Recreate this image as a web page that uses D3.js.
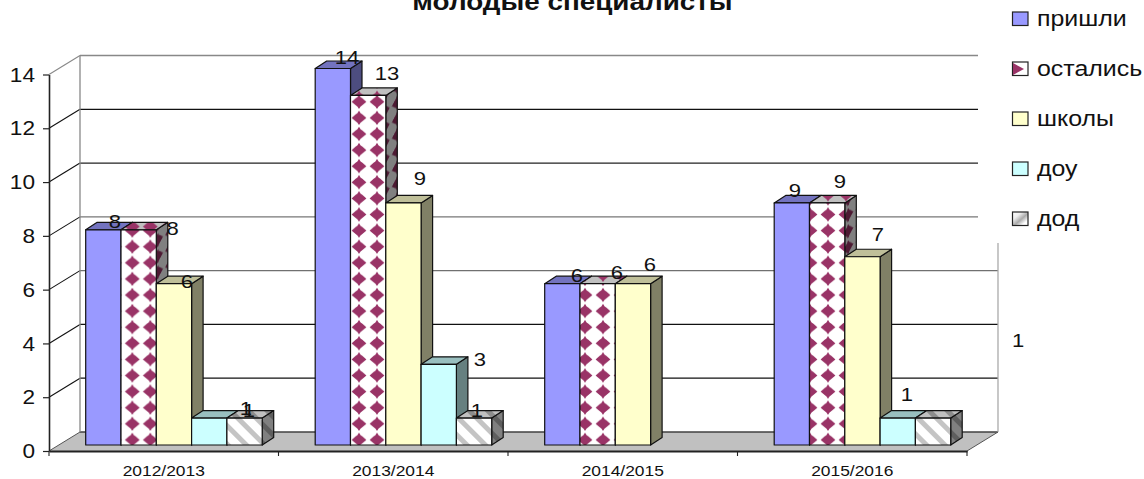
<!DOCTYPE html>
<html><head><meta charset="utf-8">
<script src="https://cdn.jsdelivr.net/npm/d3@7"></script>
<style>html,body{margin:0;padding:0;background:#fff;overflow:hidden}svg{display:block}text{font-family:"Liberation Sans",Arial,sans-serif;fill:#111}</style>
</head><body><svg id="c" width="1144" height="479"></svg>
<script>
const titleText = "молодые специалисты";
const categories = ["2012/2013","2013/2014","2014/2015","2015/2016"];
const seriesNames = ["пришли","остались","школы","доу","дод"];
const prishli  = [8,14,6,9];
const ostalis  = [8,13,6,9];
const shkoly   = [6,9,6,7];
const dou      = [1,3,null,1];
const dod      = [1,1,null,1];
const seriesValues = [prishli,ostalis,shkoly,dou,dod];
const yTicks = [0,2,4,6,8,10,12,14];

// hand-placed data label nudges (reference labels are scattered), [dx,dy] per series per category
const labelNudges = [
  [[11.6,-1.6],[14.1,-5],[14.6,-1.4],[3.1,-5.6]],
  [[34,5.4],[18.8,-15],[19.3,-4.4],[12.8,-14.6]],
  [[13,4.6],[16.5,-17.6],[17,-12.4],[15.5,-15.5]],
  [[36.7,-3],[41.2,1.8],null,[9.2,-17]],
  [[4.4,-1],[2.9,-1],null,[85,-71]]
];
const diamondPhase = [132.3,359,585,810];

const svg = d3.select("#c");
const sx = 1.16; // the reference is stretched horizontally
const X0=49, X1=967, Y0=451, Y14=74.5, WX=31, WY=-19, BX=11.5, BY=-7.5, FX=10, FY=-6;
const y = d3.scaleLinear().domain([0,14]).range([Y0,Y14]);
const xCat = d3.scaleBand().domain(categories).range([X0,X1]);
const xSer = d3.scaleBand().domain(seriesNames).range([26.7,203.2]);

const defs = svg.append("defs");
const diamondPath = "M9,0.8 L10.6,3.2 L12.4,4.6 L16.4,8 L12.4,11.4 L10.6,12.9 L9,15.2 L7.4,12.9 L5.6,11.4 L1.6,8 L5.6,4.6 L7.4,3.2Z";
function diamonds(id,bg,fg,px,ky,matrix){
  const p = defs.append("pattern").attr("id",id).attr("patternUnits","userSpaceOnUse")
    .attr("width",18).attr("height",16.1)
    .attr("patternTransform",matrix||`translate(${px},${ky})`);
  p.append("rect").attr("width",18).attr("height",16.1).attr("fill",bg);
  p.append("path").attr("d",diamondPath).attr("fill",fg);
}
categories.forEach((c,i)=>{
  const px=diamondPhase[i]-9, ky=246.7-8;
  diamonds("dm"+i,"#fff","#993366",px,ky);
  diamonds("dmT"+i,"#c0c0c0","#993366",px,ky-4);
  diamonds("dmS"+i,"#808080","#4d1a33",0,0,`matrix(0.7,-0.5,0,1,${px+3},${ky})`);
});
function stripes(id,bg,fg){
  const p = defs.append("pattern").attr("id",id).attr("patternUnits","userSpaceOnUse")
    .attr("width",13).attr("height",13).attr("patternTransform","rotate(-45)");
  p.append("rect").attr("width",13).attr("height",13).attr("fill",bg);
  p.append("rect").attr("width",5).attr("height",13).attr("fill",fg);
}
stripes("hF","#fff","#c4c4c4"); stripes("hT","#c0c0c0","#8c8c8c"); stripes("hS","#808080","#5e5e5e");

const faces = [
  {f:()=>"#9999ff",t:()=>"#7373bf",s:()=>"#4d4d80"},
  {f:i=>`url(#dm${i})`,t:i=>`url(#dmT${i})`,s:i=>`url(#dmS${i})`},
  {f:()=>"#ffffcc",t:()=>"#bfbf99",s:()=>"#808066"},
  {f:()=>"#ccffff",t:()=>"#99bfbf",s:()=>"#668080"},
  {f:()=>"url(#hF)",t:()=>"url(#hT)",s:()=>"url(#hS)"}
];

// floor
const poly=(pts)=>pts.map(p=>p.join(",")).join(" ");
svg.append("polygon").attr("points",poly([[X0,Y0],[X0+WX,Y0+WY],[X1+WX,Y0+WY],[X1,Y0]])).attr("fill","#c0c0c0");

// wall
const gridColor = {0:"#404040",2:"#111",4:"#111",6:"#707070",8:"#777",10:"#222",12:"#111",14:"#888"};
yTicks.forEach(t=>{
  const yy=y(t)+WY, right = t>=8 ? 978 : X1+WX;
  svg.append("line").attr("x1",X0+WX).attr("x2",right).attr("y1",yy).attr("y2",yy)
    .attr("stroke",gridColor[t]).attr("stroke-width",t===0?1.6:1.3);
  if(t>0) svg.append("line").attr("x1",X0).attr("x2",X0+WX).attr("y1",y(t)).attr("y2",yy)
    .attr("stroke",t===14?"#888":"#111").attr("stroke-width",1.1);
});
svg.append("line").attr("x1",X0+WX).attr("x2",X0+WX).attr("y1",y(14)+WY).attr("y2",Y0+WY).attr("stroke","#888").attr("stroke-width",1.3);
svg.append("line").attr("x1",X1+WX).attr("x2",X1+WX).attr("y1",243).attr("y2",Y0+WY).attr("stroke","#aaa").attr("stroke-width",1.3);
svg.append("line").attr("x1",X0).attr("x2",X0+WX).attr("y1",Y0).attr("y2",Y0+WY).attr("stroke","#555").attr("stroke-width",1);
svg.append("line").attr("x1",X1).attr("x2",X1+WX).attr("y1",Y0).attr("y2",Y0+WY).attr("stroke","#555").attr("stroke-width",1);

// bars
const barG = svg.append("g").attr("stroke","#111").attr("stroke-width",1.2).attr("stroke-linejoin","round");
categories.forEach((c,ci)=>{
  seriesNames.forEach((s,si)=>{
    const v = seriesValues[si][ci];
    if(v==null) return;
    const x0 = xCat(c)+FX+xSer(s), x1 = x0+xSer.bandwidth();
    const top = y(v)+FY, bot = Y0+FY;
    barG.append("polygon").attr("points",poly([[x1,top],[x1+BX,top+BY],[x1+BX,bot+BY],[x1,bot]])).attr("fill",faces[si].s(ci));
    barG.append("polygon").attr("points",poly([[x0,top],[x0+BX,top+BY],[x1+BX,top+BY],[x1,top]])).attr("fill",faces[si].t(ci));
    barG.append("rect").attr("x",x0).attr("y",top).attr("width",x1-x0).attr("height",bot-top).attr("fill",faces[si].f(ci));
  });
});

// axes
const axL = svg.append("g").attr("transform",`translate(${X0},0)`)
  .call(d3.axisLeft(y).tickValues(yTicks).tickSize(6).tickSizeOuter(0));
axL.select(".domain").attr("stroke","#222").attr("stroke-width",1.6);
axL.selectAll("line").attr("stroke","#222").attr("stroke-width",1.2);
axL.selectAll("text").attr("x",0).attr("dy","0.34em").style("font-size","19.5px").style("font-family",'"Liberation Sans"')
  .attr("transform",`translate(-14,0) scale(${sx},1)`).style("fill","#111");

const axB = svg.append("g").attr("transform",`translate(0,${Y0})`)
  .call(d3.axisBottom(xCat).tickSize(0).tickSizeOuter(0));
axB.select(".domain").attr("stroke","#222").attr("stroke-width",2);
axB.selectAll("text").attr("y",0).attr("dy",0).style("font-size","15px").style("font-family",'"Liberation Sans"').style("fill","#111")
  .attr("transform",`translate(0,25) scale(${sx},1)`);
categories.concat([null]).forEach((c)=>{
  const xx = c?xCat(c):X1;
  svg.append("line").attr("x1",xx).attr("x2",xx).attr("y1",Y0).attr("y2",Y0+5).attr("stroke","#222").attr("stroke-width",1.1);
});

// data labels
const txt=(x,yy,s,size,anchor,weight)=>svg.append("text").attr("transform",`translate(${x},${yy}) scale(${sx},1)`)
  .attr("text-anchor",anchor||"middle").style("font-size",size+"px").style("font-weight",weight||"normal").text(s);
categories.forEach((c,ci)=>{
  seriesNames.forEach((s,si)=>{
    const v = seriesValues[si][ci];
    if(v==null) return;
    const n = labelNudges[si][ci];
    const cx = xCat(c)+FX+xSer(s)+xSer.bandwidth()/2;
    txt(cx+n[0],y(v)+FY+n[1],v,19);
  });
});

// title
txt(572.5,10,titleText,24,"middle","bold");

// legend
const legY = d3.scalePoint().domain(seriesNames).range([19,219]);
const legFill = ["#9999ff","#fff","#ffffcc","#ccffff","url(#lgH)"];
const lgH = defs.append("linearGradient").attr("id","lgH").attr("x1","0").attr("y1","0").attr("x2","1").attr("y2","1");
lgH.append("stop").attr("offset","0").attr("stop-color","#fff");
lgH.append("stop").attr("offset","0.3").attr("stop-color","#eee");
lgH.append("stop").attr("offset","0.55").attr("stop-color","#aaa");
lgH.append("stop").attr("offset","0.8").attr("stop-color","#fff");
seriesNames.forEach((s,i)=>{
  const yy=legY(s);
  svg.append("rect").attr("x",1012.5).attr("y",yy-7).attr("width",15.5).attr("height",13.5)
    .attr("fill",legFill[i]).attr("stroke","#222").attr("stroke-width",1.2);
  if(i===1) svg.append("path").attr("d",d3.line()([[1013,yy-6],[1024,yy],[1013,yy+6]])+"Z").attr("fill","#993366");
  txt(1037,yy+7,s,21.5,"start");
});
</script></body></html>
